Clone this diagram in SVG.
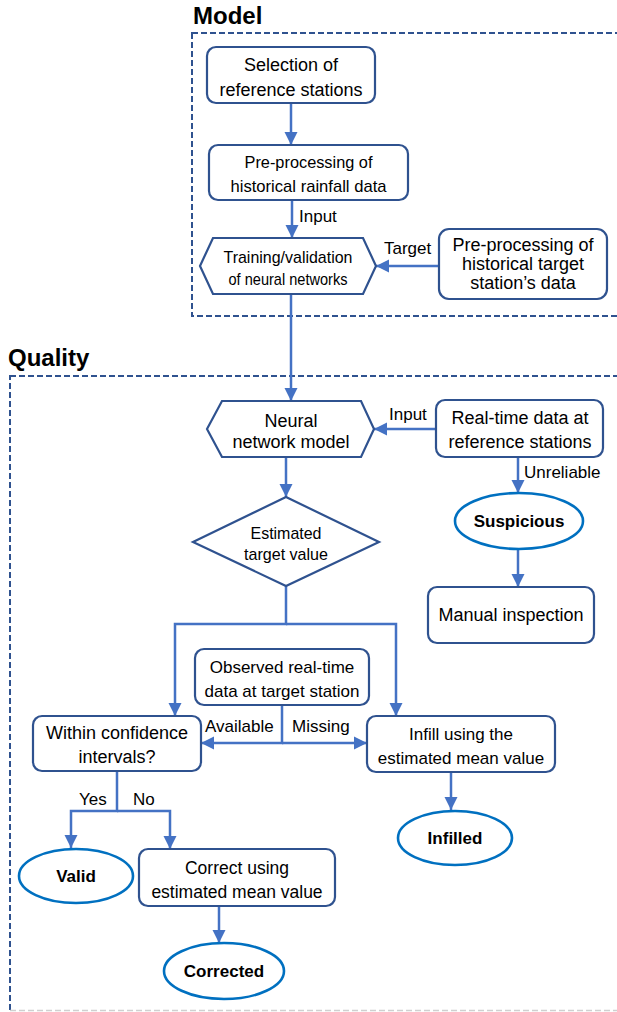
<svg xmlns="http://www.w3.org/2000/svg" width="617" height="1012" viewBox="0 0 617 1012">
<style>
text{font-family:"Liberation Sans",Arial,sans-serif;fill:#000;text-anchor:middle}
.lbl{font-size:17px;text-anchor:start}
.title{font-size:24px;font-weight:bold;text-anchor:start}
.box{fill:#fff;stroke:#2F528F;stroke-width:2.2}
.term{fill:#fff;stroke:#0070C0;stroke-width:2.6}
.b{font-weight:bold;font-size:17px}
.frame{fill:none;stroke:#2F528F;stroke-width:2;stroke-dasharray:6 3}
.con path{fill:none;stroke:#4472C4;stroke-width:2.5;marker-end:url(#ah)}
</style>
<defs>
<marker id="ah" viewBox="0 0 10 10" markerUnits="userSpaceOnUse" markerWidth="13" markerHeight="14" refX="10" refY="5" orient="auto">
<path d="M0,0 L10,5 L0,10 z" fill="#4472C4"/>
</marker>
</defs>
<rect width="617" height="1012" fill="#fff"/>
<g id="frame-model">
<rect class="frame" x="192" y="33" width="440" height="283"/>
<text class="title" x="193" y="24">Model</text>
</g>
<g id="frame-quality">
<rect class="frame" x="10" y="376" width="620" height="660"/>
<line x1="10" y1="1010.5" x2="617" y2="1010.5" stroke="#d0d0d0" stroke-width="1.5" stroke-dasharray="6 3"/>
<text class="title" x="8" y="366">Quality</text>
</g>
<g class="con" id="connectors">
<path d="M291,103 V145"/>
<path d="M292,200 V238"/>
<path d="M439,266 H376"/>
<path d="M291,294 V401"/>
<path d="M436,429 H374"/>
<path d="M518,457 V493"/>
<path d="M518,549 V587"/>
<path d="M286,457 V497"/>
<path d="M286,586 V624 H175 V716"/>
<path d="M286,624 H396 V716"/>
<path d="M282,705 V743 H201"/>
<path d="M282,743 H367"/>
<path d="M451,772 V810"/>
<path d="M117,771 V811 H71 V848"/>
<path d="M117,811 H170 V849"/>
<path d="M219,906 V943"/>
</g>
<g id="labels">
<text class="lbl" x="299" y="222">Input</text>
<text class="lbl" x="384" y="254">Target</text>
<text class="lbl" x="389" y="420">Input</text>
<text class="lbl" x="524" y="478">Unreliable</text>
<text class="lbl" x="205" y="732">Available</text>
<text class="lbl" x="292" y="732">Missing</text>
<text class="lbl" x="79" y="805">Yes</text>
<text class="lbl" x="133" y="805">No</text>
</g>
<g id="n-selection">
<rect class="box" x="207" y="47" width="168" height="56" rx="9"/>
<text x="291" y="71" font-size="18">Selection of</text>
<text x="291" y="96" font-size="18">reference stations</text>
</g>
<g id="n-preproc-rain">
<rect class="box" x="209" y="145" width="199" height="55" rx="9"/>
<text x="308.5" y="168" font-size="17" textLength="128" lengthAdjust="spacingAndGlyphs">Pre-processing of</text>
<text x="308.5" y="192" font-size="17" textLength="156" lengthAdjust="spacingAndGlyphs">historical rainfall data</text>
</g>
<g id="n-training">
<polygon class="box" points="200,266 213,238 363,238 376,266 363,294 213,294"/>
<text x="288" y="263" font-size="17" textLength="129" lengthAdjust="spacingAndGlyphs">Training/validation</text>
<text x="288" y="285" font-size="17" textLength="119" lengthAdjust="spacingAndGlyphs">of neural networks</text>
</g>
<g id="n-preproc-target">
<rect class="box" x="439" y="229" width="168" height="70" rx="10"/>
<text x="523" y="251" font-size="18">Pre-processing of</text>
<text x="523" y="270" font-size="18">historical target</text>
<text x="523" y="289" font-size="18">station’s data</text>
</g>
<g id="n-neural">
<polygon class="box" points="207,429 222,401 361,401 374,429 361,457 222,457"/>
<text x="291" y="427" font-size="18">Neural</text>
<text x="291" y="448" font-size="18">network model</text>
</g>
<g id="n-realtime">
<rect class="box" x="436" y="400" width="167" height="57" rx="9"/>
<text x="520" y="424" font-size="18">Real-time data at</text>
<text x="520" y="448" font-size="18">reference stations</text>
</g>
<g id="n-suspicious">
<ellipse class="term" cx="519" cy="521" rx="64" ry="28"/>
<text class="b" x="519" y="527">Suspicious</text>
</g>
<g id="n-manual">
<rect class="box" x="428" y="587" width="166" height="56" rx="9"/>
<text x="511" y="621" font-size="18">Manual inspection</text>
</g>
<g id="n-estimated">
<polygon class="box" points="286,497 379,542 286,586 193,542"/>
<text x="286" y="539" font-size="17" textLength="71" lengthAdjust="spacingAndGlyphs">Estimated</text>
<text x="286" y="560" font-size="17" textLength="84" lengthAdjust="spacingAndGlyphs">target value</text>
</g>
<g id="n-observed">
<rect class="box" x="195" y="649" width="174" height="56" rx="9"/>
<text x="282" y="673" font-size="17">Observed real-time</text>
<text x="282" y="697" font-size="17">data at target station</text>
</g>
<g id="n-within">
<rect class="box" x="33" y="716" width="168" height="55" rx="9"/>
<text x="117" y="739" font-size="18">Within confidence</text>
<text x="117" y="763" font-size="18">intervals?</text>
</g>
<g id="n-infill">
<rect class="box" x="367" y="716" width="188" height="56" rx="9"/>
<text x="461" y="740" font-size="17">Infill using the</text>
<text x="461" y="764" font-size="17">estimated mean value</text>
</g>
<g id="n-infilled">
<ellipse class="term" cx="455" cy="838" rx="57" ry="27"/>
<text class="b" x="455" y="844">Infilled</text>
</g>
<g id="n-valid">
<ellipse class="term" cx="76" cy="876" rx="57" ry="27"/>
<text class="b" x="76" y="882">Valid</text>
</g>
<g id="n-correct">
<rect class="box" x="139" y="849" width="196" height="57" rx="9"/>
<text x="237" y="874" font-size="17.5">Correct using</text>
<text x="237" y="898" font-size="17.5">estimated mean value</text>
</g>
<g id="n-corrected">
<ellipse class="term" cx="224" cy="971" rx="60" ry="28"/>
<text class="b" x="224" y="977">Corrected</text>
</g>
</svg>
